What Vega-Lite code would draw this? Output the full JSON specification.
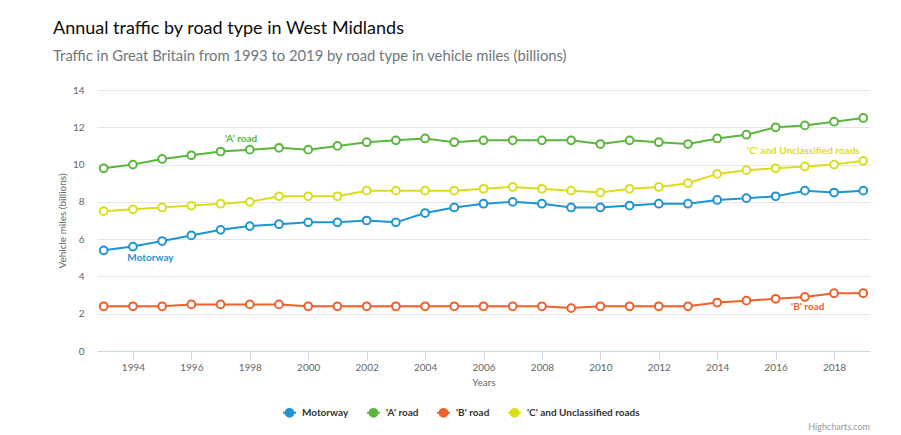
{
  "$schema": "https://vega.github.io/schema/vega-lite/v6.json",
  "width": 773,
  "height": 261,
  "autosize": {"type": "none"},
  "padding": {"left": 97, "top": 90, "right": 31, "bottom": 84},
  "background": "white",
  "title": {
    "text": "Annual traffic by road type in West Midlands",
    "subtitle": "Traffic in Great Britain from 1993 to 2019 by road type in vehicle miles (billions)",
    "anchor": "start",
    "frame": "group",
    "dx": -44,
    "offset": 21,
    "font": "Lato",
    "fontSize": 18,
    "fontWeight": "normal",
    "color": "#0b0c0c",
    "subtitleFont": "Lato",
    "subtitleFontSize": 14.8,
    "subtitleColor": "#6f777b",
    "subtitlePadding": 11
  },
  "datasets": {
    "traffic": [
      {"year": 1993, "series": "Motorway", "value": 5.4},
      {"year": 1994, "series": "Motorway", "value": 5.6},
      {"year": 1995, "series": "Motorway", "value": 5.9},
      {"year": 1996, "series": "Motorway", "value": 6.2},
      {"year": 1997, "series": "Motorway", "value": 6.5},
      {"year": 1998, "series": "Motorway", "value": 6.7},
      {"year": 1999, "series": "Motorway", "value": 6.8},
      {"year": 2000, "series": "Motorway", "value": 6.9},
      {"year": 2001, "series": "Motorway", "value": 6.9},
      {"year": 2002, "series": "Motorway", "value": 7.0},
      {"year": 2003, "series": "Motorway", "value": 6.9},
      {"year": 2004, "series": "Motorway", "value": 7.4},
      {"year": 2005, "series": "Motorway", "value": 7.7},
      {"year": 2006, "series": "Motorway", "value": 7.9},
      {"year": 2007, "series": "Motorway", "value": 8.0},
      {"year": 2008, "series": "Motorway", "value": 7.9},
      {"year": 2009, "series": "Motorway", "value": 7.7},
      {"year": 2010, "series": "Motorway", "value": 7.7},
      {"year": 2011, "series": "Motorway", "value": 7.8},
      {"year": 2012, "series": "Motorway", "value": 7.9},
      {"year": 2013, "series": "Motorway", "value": 7.9},
      {"year": 2014, "series": "Motorway", "value": 8.1},
      {"year": 2015, "series": "Motorway", "value": 8.2},
      {"year": 2016, "series": "Motorway", "value": 8.3},
      {"year": 2017, "series": "Motorway", "value": 8.6},
      {"year": 2018, "series": "Motorway", "value": 8.5},
      {"year": 2019, "series": "Motorway", "value": 8.6},
      {"year": 1993, "series": "'A' road", "value": 9.8},
      {"year": 1994, "series": "'A' road", "value": 10.0},
      {"year": 1995, "series": "'A' road", "value": 10.3},
      {"year": 1996, "series": "'A' road", "value": 10.5},
      {"year": 1997, "series": "'A' road", "value": 10.7},
      {"year": 1998, "series": "'A' road", "value": 10.8},
      {"year": 1999, "series": "'A' road", "value": 10.9},
      {"year": 2000, "series": "'A' road", "value": 10.8},
      {"year": 2001, "series": "'A' road", "value": 11.0},
      {"year": 2002, "series": "'A' road", "value": 11.2},
      {"year": 2003, "series": "'A' road", "value": 11.3},
      {"year": 2004, "series": "'A' road", "value": 11.4},
      {"year": 2005, "series": "'A' road", "value": 11.2},
      {"year": 2006, "series": "'A' road", "value": 11.3},
      {"year": 2007, "series": "'A' road", "value": 11.3},
      {"year": 2008, "series": "'A' road", "value": 11.3},
      {"year": 2009, "series": "'A' road", "value": 11.3},
      {"year": 2010, "series": "'A' road", "value": 11.1},
      {"year": 2011, "series": "'A' road", "value": 11.3},
      {"year": 2012, "series": "'A' road", "value": 11.2},
      {"year": 2013, "series": "'A' road", "value": 11.1},
      {"year": 2014, "series": "'A' road", "value": 11.4},
      {"year": 2015, "series": "'A' road", "value": 11.6},
      {"year": 2016, "series": "'A' road", "value": 12.0},
      {"year": 2017, "series": "'A' road", "value": 12.1},
      {"year": 2018, "series": "'A' road", "value": 12.3},
      {"year": 2019, "series": "'A' road", "value": 12.5},
      {"year": 1993, "series": "'B' road", "value": 2.4},
      {"year": 1994, "series": "'B' road", "value": 2.4},
      {"year": 1995, "series": "'B' road", "value": 2.4},
      {"year": 1996, "series": "'B' road", "value": 2.5},
      {"year": 1997, "series": "'B' road", "value": 2.5},
      {"year": 1998, "series": "'B' road", "value": 2.5},
      {"year": 1999, "series": "'B' road", "value": 2.5},
      {"year": 2000, "series": "'B' road", "value": 2.4},
      {"year": 2001, "series": "'B' road", "value": 2.4},
      {"year": 2002, "series": "'B' road", "value": 2.4},
      {"year": 2003, "series": "'B' road", "value": 2.4},
      {"year": 2004, "series": "'B' road", "value": 2.4},
      {"year": 2005, "series": "'B' road", "value": 2.4},
      {"year": 2006, "series": "'B' road", "value": 2.4},
      {"year": 2007, "series": "'B' road", "value": 2.4},
      {"year": 2008, "series": "'B' road", "value": 2.4},
      {"year": 2009, "series": "'B' road", "value": 2.3},
      {"year": 2010, "series": "'B' road", "value": 2.4},
      {"year": 2011, "series": "'B' road", "value": 2.4},
      {"year": 2012, "series": "'B' road", "value": 2.4},
      {"year": 2013, "series": "'B' road", "value": 2.4},
      {"year": 2014, "series": "'B' road", "value": 2.6},
      {"year": 2015, "series": "'B' road", "value": 2.7},
      {"year": 2016, "series": "'B' road", "value": 2.8},
      {"year": 2017, "series": "'B' road", "value": 2.9},
      {"year": 2018, "series": "'B' road", "value": 3.1},
      {"year": 2019, "series": "'B' road", "value": 3.1},
      {"year": 1993, "series": "'C' and Unclassified roads", "value": 7.5},
      {"year": 1994, "series": "'C' and Unclassified roads", "value": 7.6},
      {"year": 1995, "series": "'C' and Unclassified roads", "value": 7.7},
      {"year": 1996, "series": "'C' and Unclassified roads", "value": 7.8},
      {"year": 1997, "series": "'C' and Unclassified roads", "value": 7.9},
      {"year": 1998, "series": "'C' and Unclassified roads", "value": 8.0},
      {"year": 1999, "series": "'C' and Unclassified roads", "value": 8.3},
      {"year": 2000, "series": "'C' and Unclassified roads", "value": 8.3},
      {"year": 2001, "series": "'C' and Unclassified roads", "value": 8.3},
      {"year": 2002, "series": "'C' and Unclassified roads", "value": 8.6},
      {"year": 2003, "series": "'C' and Unclassified roads", "value": 8.6},
      {"year": 2004, "series": "'C' and Unclassified roads", "value": 8.6},
      {"year": 2005, "series": "'C' and Unclassified roads", "value": 8.6},
      {"year": 2006, "series": "'C' and Unclassified roads", "value": 8.7},
      {"year": 2007, "series": "'C' and Unclassified roads", "value": 8.8},
      {"year": 2008, "series": "'C' and Unclassified roads", "value": 8.7},
      {"year": 2009, "series": "'C' and Unclassified roads", "value": 8.6},
      {"year": 2010, "series": "'C' and Unclassified roads", "value": 8.5},
      {"year": 2011, "series": "'C' and Unclassified roads", "value": 8.7},
      {"year": 2012, "series": "'C' and Unclassified roads", "value": 8.8},
      {"year": 2013, "series": "'C' and Unclassified roads", "value": 9.0},
      {"year": 2014, "series": "'C' and Unclassified roads", "value": 9.5},
      {"year": 2015, "series": "'C' and Unclassified roads", "value": 9.7},
      {"year": 2016, "series": "'C' and Unclassified roads", "value": 9.8},
      {"year": 2017, "series": "'C' and Unclassified roads", "value": 9.9},
      {"year": 2018, "series": "'C' and Unclassified roads", "value": 10.0},
      {"year": 2019, "series": "'C' and Unclassified roads", "value": 10.2}
    ],
    "labels": [
      {"year": 1997.7, "value": 11.37, "series": "'A' road", "label": "'A' road"},
      {"year": 1994.6, "value": 4.99, "series": "Motorway", "label": "Motorway"},
      {"year": 2016.95, "value": 10.73, "series": "'C' and Unclassified roads", "label": "'C' and Unclassified roads"},
      {"year": 2017.1, "value": 2.36, "series": "'B' road", "label": "'B' road"}
    ],
    "credits": [
      {"year": 2019.23, "value": -4.1, "label": "Highcharts.com"}
    ]
  },
  "encoding": {
    "x": {
      "field": "year",
      "type": "quantitative",
      "scale": {"domain": [1992.77, 2019.23], "nice": false, "zero": false},
      "axis": {
        "values": [1994, 1996, 1998, 2000, 2002, 2004, 2006, 2008, 2010, 2012, 2014, 2016, 2018],
        "format": "d",
        "title": "Years",
        "grid": false,
        "domainColor": "#ccd6eb",
        "tickColor": "#ccd6eb",
        "tickSize": 8,
        "labelPadding": 3,
        "labelFontSize": 10,
        "labelColor": "#666666",
        "labelFont": "Lato",
        "titleFont": "Lato",
        "titleFontSize": 10,
        "titleFontWeight": "normal",
        "titleColor": "#666666",
        "titlePadding": 5
      }
    },
    "y": {
      "field": "value",
      "type": "quantitative",
      "scale": {"domain": [0, 14], "nice": false},
      "axis": {
        "values": [0, 2, 4, 6, 8, 10, 12, 14],
        "title": "Vehicle miles (billions)",
        "domain": false,
        "ticks": false,
        "gridColor": "#e6e6e6",
        "labelPadding": 13,
        "labelFontSize": 10,
        "labelColor": "#666666",
        "labelFont": "Lato",
        "titleFont": "Lato",
        "titleFontSize": 10,
        "titleFontWeight": "normal",
        "titleColor": "#666666",
        "titlePadding": 5
      }
    }
  },
  "layer": [
    {
      "data": {"name": "traffic"},
      "mark": {"type": "line", "strokeWidth": 2},
      "encoding": {
        "color": {
          "field": "series",
          "type": "nominal",
          "scale": {
            "domain": ["Motorway", "'A' road", "'B' road", "'C' and Unclassified roads"],
            "range": ["#1f94d2", "#5ab63c", "#f0602b", "#dcdc1e"]
          },
          "legend": {
            "title": null,
            "orient": "none",
            "direction": "horizontal",
            "legendX": 185,
            "legendY": 315,
            "symbolType": "M-1,0L-0.6,0M0.6,0L1,0M-0.6,0A0.6,0.6 0 1,0 0.6,0A0.6,0.6 0 1,0 -0.6,0Z",
            "symbolSize": 169,
            "symbolStrokeWidth": 2,
            "symbolFillColor": "white",
            "symbolOpacity": 1,
            "labelFont": "Lato",
            "labelFontSize": 10,
            "labelFontWeight": "bold",
            "labelColor": "#333333",
            "labelOffset": 5,
            "columnPadding": 14,
            "encode": {
              "symbols": {"update": {"fill": {"value": "#ffffff"}, "fillOpacity": {"value": 1}, "shape": {"value": "M-1,0L-0.6,0M0.6,0L1,0M-0.6,0A0.6,0.6 0 1,0 0.6,0A0.6,0.6 0 1,0 -0.6,0Z"}, "size": {"value": 169}, "strokeWidth": {"value": 2}}}
            }
          }
        }
      }
    },
    {
      "data": {"name": "traffic"},
      "mark": {"type": "point", "shape": "circle", "filled": false, "fill": "white", "fillOpacity": 1, "opacity": 1, "size": 60, "strokeWidth": 2},
      "encoding": {
        "color": {"field": "series", "type": "nominal"}
      }
    },
    {
      "data": {"name": "labels"},
      "mark": {"type": "text", "font": "Lato", "fontSize": 10, "fontWeight": "bold", "align": "center", "baseline": "middle"},
      "encoding": {
        "text": {"field": "label", "type": "nominal"},
        "color": {"field": "series", "type": "nominal"}
      }
    },
    {
      "data": {"name": "credits"},
      "mark": {"type": "text", "font": "Lato", "fontSize": 9, "color": "#999999", "align": "right", "baseline": "middle", "clip": false},
      "encoding": {
        "text": {"field": "label", "type": "nominal"}
      }
    }
  ],
  "config": {
    "view": {"stroke": null},
    "font": "Lato"
  }
}
